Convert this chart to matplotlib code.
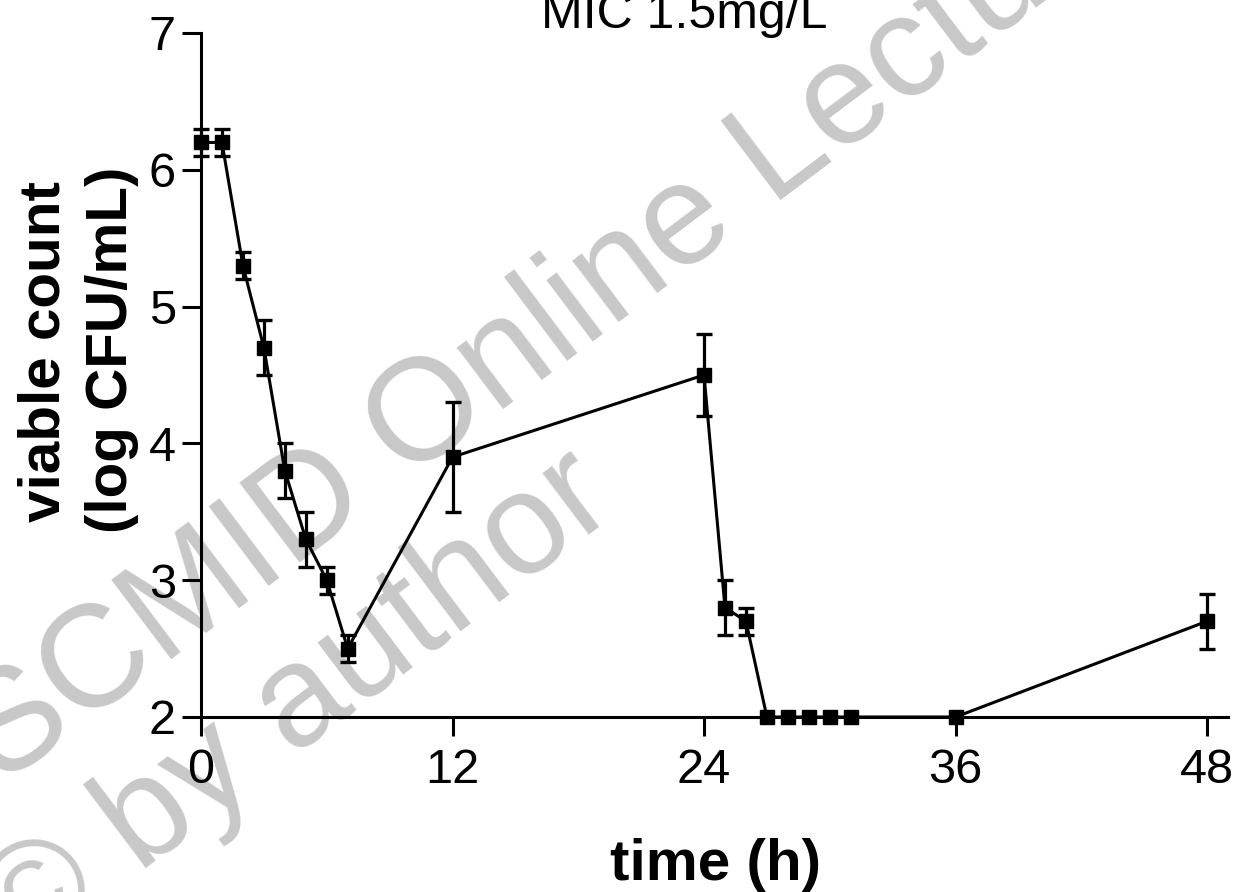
import numpy as np
import matplotlib
matplotlib.use("Agg")
import matplotlib.pyplot as plt

# ---- data ----
time_h = [0, 1, 2, 3, 4, 5, 6, 7, 12, 24, 25, 26, 27, 28, 29, 30, 31, 36, 48]
viable = [6.2, 6.2, 5.3, 4.7, 3.8, 3.3, 3.0, 2.5, 3.9, 4.5, 2.8, 2.7, 2.0, 2.0, 2.0, 2.0, 2.0, 2.0, 2.7]
sd = [0.1, 0.1, 0.1, 0.2, 0.2, 0.2, 0.1, 0.1, 0.4, 0.3, 0.2, 0.1, 0, 0, 0, 0, 0, 0, 0.2]
x_ticks = [0, 12, 24, 36, 48]
y_ticks = [2, 3, 4, 5, 6, 7]
title = "MIC 1.5mg/L"
x_label = "time (h)"
y_label_lines = ["viable count", "(log CFU/mL)"]
watermark_lines = ["ESCMID Online Lecture Library", "\u00a9 by author"]

plt.rcParams['font.family'] = ['Liberation Sans', 'DejaVu Sans']

W, H = 1235, 892
fig = plt.figure(figsize=(W / 100, H / 100), dpi=100)

def fx(px):
    return px / W

def fy(py):
    return 1 - py / H

# watermark (behind everything)
wm_color = '#c8c8c8'
fig.text(fx(-75), fy(845), watermark_lines[0], rotation=37, rotation_mode='anchor',
         ha='left', va='baseline', fontsize=104, color=wm_color, zorder=-5)
fig.text(fx(22), fy(962), watermark_lines[1], rotation=37, rotation_mode='anchor',
         ha='left', va='baseline', fontsize=104, color=wm_color, zorder=-5)

ax = fig.add_axes([fx(201), 175 / H, (1228 - 201) / W, 684 / H])
ax.set_facecolor('none')
ax.patch.set_alpha(0)

t = np.array(time_h, dtype=float)
v = np.array(viable, dtype=float)
e = np.array(sd, dtype=float)

ax.plot(t, v, '-', color='k', lw=2.2, marker='s', ms=9.5, mec='k', mfc='k',
        clip_on=False, zorder=5)
m = e > 0
ax.errorbar(t[m], v[m], yerr=e[m], fmt='none', ecolor='k', elinewidth=2.3,
            capsize=5.6, capthick=2.4, clip_on=False, zorder=4)

ax.set_xlim(0, 49)
ax.set_ylim(2, 7)
ax.set_xticks(x_ticks)
ax.set_yticks(y_ticks)
ax.set_xticklabels([str(x) for x in x_ticks])
ax.set_yticklabels([str(y) for y in y_ticks])

for s in ['top', 'right']:
    ax.spines[s].set_visible(False)
for s in ['left', 'bottom']:
    ax.spines[s].set_linewidth(2.2)
ax.tick_params(axis='both', direction='out', length=14, width=2.2, labelsize=35)
ax.tick_params(axis='x', pad=8)
ax.tick_params(axis='y', pad=4)

# title
fig.text(fx(684), fy(28), title, ha='center', va='baseline', fontsize=36)
# x label
fig.text(fx(715), fy(880), x_label, ha='center', va='baseline', fontsize=42,
         fontweight='bold')
# y label (two lines)
fig.text(fx(60), fy(351), y_label_lines[0], rotation=90, rotation_mode='anchor',
         ha='center', va='baseline', fontsize=42, fontweight='bold')
fig.text(fx(127), fy(350), y_label_lines[1], rotation=90, rotation_mode='anchor',
         ha='center', va='baseline', fontsize=42, fontweight='bold')

fig.savefig('out.png', dpi=100)
